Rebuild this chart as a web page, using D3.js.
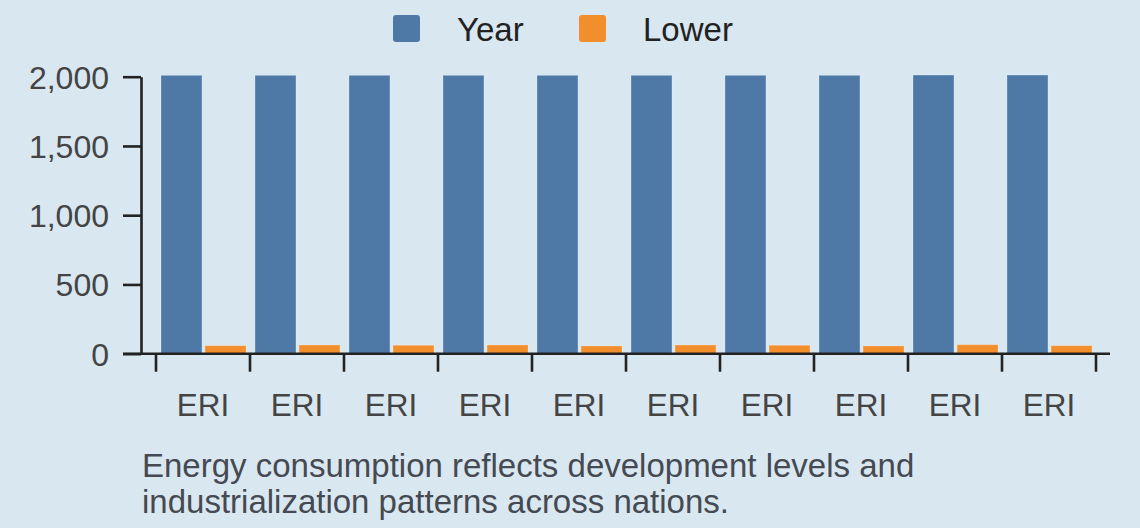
<!DOCTYPE html>
<html>
<head>
<meta charset="utf-8">
<script src="https://cdn.jsdelivr.net/npm/d3@7/dist/d3.min.js"></script>
<style>
  html, body { margin: 0; padding: 0; background: #d9e7f1; }
  svg { display: block; font-family: "Liberation Sans", Arial, sans-serif; }
</style>
</head>
<body>
<svg id="chart" width="1140" height="528"></svg>
<script>
const categories = ["ERI", "ERI", "ERI", "ERI", "ERI", "ERI", "ERI", "ERI", "ERI", "ERI"];
const yearValues = [2010, 2010, 2010, 2010, 2010, 2010, 2010, 2010, 2012, 2012];
const lowerValues = [58, 63, 61, 63, 56, 63, 61, 56, 65, 58];
const seriesNames = ["Year", "Lower"];
const seriesColors = ["#4e79a7", "#f28e2b"];
const yTicks = [0, 500, 1000, 1500, 2000];
const captionLines = [
  "Energy consumption reflects development levels and",
  "industrialization patterns across nations."
];

(function () {
const rows = categories.map((c, i) => ({ idx: i, cat: c, vals: [yearValues[i], lowerValues[i]] }));

const svg = d3.select("#chart");
const W = 1140, H = 528;
svg.append("rect").attr("width", W).attr("height", H).attr("fill", "#d9e7f1");

const axisLeftX = 141, plotRight = 1110, plotTop = 76.7, plotBottom = 353.7;

const x0 = d3.scaleBand().domain(d3.range(categories.length)).range([156, 1096]).padding(0);
const x1 = d3.scaleBand().domain([0, 1]).range([5, 90]).paddingInner(0.07);
const y = d3.scaleLinear().domain([0, 2000]).range([plotBottom, plotTop]);

// bars
const g = svg.append("g");
const groups = g.selectAll("g.grp").data(rows).join("g")
  .attr("transform", d => `translate(${x0(d.idx)},0)`);
groups.selectAll("rect").data(d => d.vals.map((v, k) => ({ v, k }))).join("rect")
  .attr("x", d => x1(d.k))
  .attr("width", x1.bandwidth())
  .attr("y", d => y(d.v))
  .attr("height", d => y(0) - y(d.v))
  .attr("fill", d => seriesColors[d.k])
  .attr("stroke", "rgba(255,255,255,0.25)")
  .attr("stroke-width", 1);

// y axis
const yAxis = svg.append("g").attr("transform", `translate(${axisLeftX},0)`)
  .call(d3.axisLeft(y).tickValues(yTicks).tickFormat(d3.format(",")).tickSize(18).tickSizeOuter(0).tickPadding(14));
yAxis.select(".domain").attr("stroke", "#222").attr("stroke-width", 2.6);
yAxis.selectAll(".tick line").attr("stroke", "#222").attr("stroke-width", 2.6);
yAxis.selectAll(".tick text").attr("fill", "#444").attr("font-size", 32)
  .attr("font-family", "'Liberation Sans', Arial, sans-serif").attr("dy", "0.36em");

// x axis
const xAxis = svg.append("g").attr("transform", `translate(0,${plotBottom})`)
  .call(d3.axisBottom(x0).tickFormat(i => categories[i]).tickSize(18).tickSizeOuter(0).tickPadding(22));
xAxis.select(".domain").attr("d", `M${axisLeftX - 18},0H${plotRight}`).attr("stroke", "#222").attr("stroke-width", 2.6);
xAxis.selectAll(".tick line").attr("stroke", "#222").attr("stroke-width", 2.6)
  .attr("transform", `translate(${-x0.step() / 2},0)`);
xAxis.append("line").attr("x1", x0.range()[1]).attr("x2", x0.range()[1]).attr("y1", 0).attr("y2", 18)
  .attr("stroke", "#222").attr("stroke-width", 2.6);
xAxis.selectAll(".tick text").attr("fill", "#444").attr("font-size", 31.5)
  .attr("font-family", "'Liberation Sans', Arial, sans-serif");

// legend
const legendX = [393, 579];
const leg = svg.append("g");
seriesNames.forEach((name, k) => {
  leg.append("rect").attr("x", legendX[k]).attr("y", 15).attr("width", 27).attr("height", 27)
    .attr("rx", 3).attr("fill", seriesColors[k]);
  leg.append("text").attr("x", legendX[k] + 64).attr("y", 40.5).attr("font-size", 33)
    .attr("fill", "#222").text(name);
});

// caption
const cap = svg.append("text").attr("x", 142).attr("y", 476.5).attr("font-size", 33).attr("fill", "#454a52");
captionLines.forEach((line, i) => {
  cap.append("tspan").attr("x", 142).attr("dy", i === 0 ? 0 : 36).text(line);
});
})();
</script>
</body>
</html>
